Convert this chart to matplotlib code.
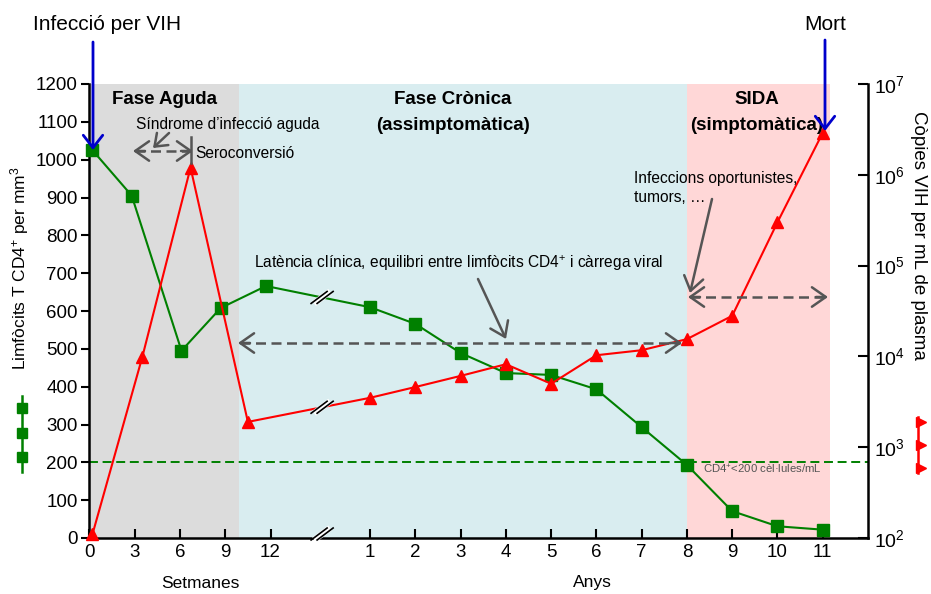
import numpy as np
import matplotlib
matplotlib.use("Agg")
import matplotlib.pyplot as plt
from matplotlib.lines import Line2D
from matplotlib import font_manager

# ---------------- data ----------------
weeks_cd4 = [0.2, 2.8, 6.1, 8.7, 11.7]
cd4_weeks = [1025, 905, 495, 608, 666]
years = [1, 2, 3, 4, 5, 6, 7, 8, 9, 10, 11]
cd4_years = [610, 566, 489, 436, 431, 393, 293, 193, 71, 31, 22]

weeks_vl = [0.2, 3.5, 6.7, 10.5]
vl_weeks = [1.1e2, 9.8e3, 1.2e6, 1.9e3]
vl_years = [3.5e3, 4.6e3, 6.1e3, 8.2e3, 5.0e3, 1.03e4, 1.17e4, 1.55e4, 2.8e4, 3.0e5, 2.9e6]

week_ticks = [0, 3, 6, 9, 12]
year_ticks = [1, 2, 3, 4, 5, 6, 7, 8, 9, 10, 11]
cd4_ticks = list(range(0, 1201, 100))
vl_exponents = [2, 3, 4, 5, 6, 7]
cd4_threshold = 200

# ---------------- style ----------------
W, H = 931, 594
YEAR_OFFSET = 5.2          # position of "year 0" on the shared axis (units = 3 weeks)
def wk(w):
    return np.asarray(w, float) / 3.0
def yr(y):
    return np.asarray(y, float) + YEAR_OFFSET

names = {f.name for f in font_manager.fontManager.ttflist}
NARROW = "Liberation Sans Narrow" if "Liberation Sans Narrow" in names else "Liberation Sans"
plt.rcParams["font.family"] = [NARROW, "DejaVu Sans"]
plt.rcParams["mathtext.fontset"] = "custom"
plt.rcParams["mathtext.rm"] = NARROW
plt.rcParams["mathtext.it"] = NARROW + ":italic"
plt.rcParams["mathtext.bf"] = NARROW + ":bold"

GREEN = "#008000"
RED = "#ff0000"
BLUE = "#0000cc"
GREY = "#555555"

fig = plt.figure(figsize=(W / 100, H / 100), dpi=100)
ax = fig.add_axes([89 / W, 1 - 538 / H, (868 - 89) / W, (538 - 84) / H])
ax.set_xlim(-0.01, 12 + YEAR_OFFSET)
ax.set_ylim(0, 1200)

# phase shading
acute_end = wk(9.9)
chronic_end = yr(8)
aids_end = yr(11.17)
ax.axvspan(-0.01, acute_end, color="#dcdcdc", lw=0, zorder=0)
ax.axvspan(acute_end, chronic_end, color="#d9edf0", lw=0, zorder=0)
ax.axvspan(chronic_end, aids_end, color="#ffd7d7", lw=0, zorder=0)

# threshold line
ax.axhline(cd4_threshold, color=GREEN, lw=1.4, dashes=(4.6, 2.4), zorder=2)

# CD4 series
x_cd4 = np.concatenate([wk(weeks_cd4), yr(years)])
y_cd4 = np.concatenate([cd4_weeks, cd4_years])
ax.plot(x_cd4, y_cd4, color=GREEN, lw=1.5, marker="s", ms=8.5, zorder=4, clip_on=False)

# axes styling (left)
for s in ["top", "right"]:
    ax.spines[s].set_visible(False)
for s in ["left", "bottom"]:
    ax.spines[s].set_linewidth(1.8)
ax.set_yticks(cd4_ticks)
ax.tick_params(axis="y", direction="out", length=6, width=1.5, labelsize=13.5, pad=2)
xt = list(wk(week_ticks)) + list(yr(year_ticks))
xl = [str(v) for v in week_ticks] + [str(v) for v in year_ticks]
ax.set_xticks(xt)
ax.set_xticklabels(xl)
ax.tick_params(axis="x", direction="in", length=6.5, width=1.5, labelsize=13.5, pad=4)

# viral load axis
ax2 = ax.twinx()
ax2.set_yscale("log")
ax2.set_ylim(1e2, 1e7)
x_vl = np.concatenate([wk(weeks_vl), yr(years)])
y_vl = np.concatenate([vl_weeks, vl_years])
ax2.plot(x_vl, y_vl, color=RED, lw=1.5, marker="^", ms=9, zorder=4, clip_on=False)
for s in ["top", "left", "bottom"]:
    ax2.spines[s].set_visible(False)
ax2.spines["right"].set_linewidth(1.8)
ax2.set_yticks([10.0 ** e for e in vl_exponents])
ax2.set_yticklabels([r"10$^{%d}$" % e for e in vl_exponents])
ax2.yaxis.set_minor_locator(matplotlib.ticker.NullLocator())
ax2.tick_params(axis="y", direction="in", length=7, width=1.5, labelsize=14, pad=4)

# ---------------- axis break marks ----------------
fig.canvas.draw()
brk_u = 5.14

def break_mark(dx, dy):
    L = 10.0
    vx, vy = 0.8, 0.6
    xs = [dx - vx * L, dx + vx * L]
    ys = [dy - vy * L, dy + vy * L]
    fig.add_artist(Line2D([x / W for x in xs], [y / H for y in ys], color="white",
                          lw=4.5, solid_capstyle="butt", zorder=10))
    for off in (-3.0, 3.0):
        xs = [dx + off - vx * L, dx + off + vx * L]
        fig.add_artist(Line2D([x / W for x in xs], [y / H for y in ys], color="black",
                              lw=1.2, zorder=11))

gy = np.interp(brk_u, x_cd4, y_cd4)
rv = 10 ** np.interp(brk_u, x_vl, np.log10(y_vl))
for tr, val in [(ax.transData, 0), (ax.transData, gy), (ax2.transData, rv)]:
    d = tr.transform((brk_u, val))
    break_mark(d[0], d[1] + (4 if val == 0 else 0))

# ---------------- annotations (pixel positions from top-left) ----------------
def P(x, y):
    return (x / W, 1 - y / H)

def txt(x, y, s, **kw):
    kw.setdefault("ha", "center")
    kw.setdefault("va", "center")
    fig.text(*P(x, y), s, **kw)

def arrow(x1, y1, x2, y2, color, lw=2.0, hl=0.5, hw=0.35, ls="-"):
    fig.add_artist(matplotlib.patches.FancyArrowPatch(
        P(x1, y1), P(x2, y2), transform=fig.transFigure,
        arrowstyle="->,head_length=%g,head_width=%g" % (hl, hw),
        mutation_scale=20, color=color, lw=lw, linestyle=ls, zorder=12,
        shrinkA=0, shrinkB=0))

def darrow(x1, x2, y):
    fig.add_artist(Line2D([P(x1 + 2, y)[0], P(x2 - 2, y)[0]], [P(0, y)[1]] * 2,
                          color=GREY, lw=1.8, dashes=(4, 2.2), zorder=12))
    arrow(x1 + 12, y, x1, y, GREY, lw=1.8, hl=0.5, hw=0.35)
    arrow(x2 - 12, y, x2, y, GREY, lw=1.8, hl=0.5, hw=0.35)

txt(107, 24, "Infecció per VIH", fontsize=15)
txt(825, 24, "Mort", fontsize=15)
arrow(93, 42, 93, 150, BLUE, lw=2.0, hl=0.45, hw=0.35)
arrow(825, 40, 825, 131, BLUE, lw=2.0, hl=0.45, hw=0.35)

txt(164, 100, "Fase Aguda", fontsize=13.5, fontweight="bold")
txt(453, 100, "Fase Crònica", fontsize=13.5, fontweight="bold")
txt(453, 126, "(assimptomàtica)", fontsize=13.5, fontweight="bold")
txt(757, 100, "SIDA", fontsize=13.5, fontweight="bold")
txt(757, 126, "(simptomàtica)", fontsize=13.5, fontweight="bold")

txt(228, 125, "Síndrome d’infecció aguda", fontsize=11.2)
txt(195, 153, "Seroconversió", fontsize=11.2, ha="left")
darrow(133, 193, 151)
arrow(169, 133, 153, 148, GREY, lw=1.8, hl=0.4, hw=0.3)
fig.add_artist(Line2D([P(191, 0)[0]] * 2, [P(0, 137)[1], P(0, 163)[1]], color=GREY, lw=1.8, zorder=12))

txt(634, 179, "Infeccions oportunistes,", fontsize=11.2, ha="left")
txt(634, 197, "tumors, …", fontsize=11.2, ha="left")
arrow(712, 199, 690, 293, GREY, lw=1.8, hl=0.5, hw=0.35)
darrow(688, 828, 297)

txt(459, 263, "Latència clínica, equilibri entre limfòcits CD4$^{+}$ i càrrega viral", fontsize=11.2)
arrow(478, 279, 506, 339, GREY, lw=1.8, hl=0.5, hw=0.35)
darrow(238, 682, 343)

txt(703, 469, "CD4$^{+}$<200 cèl·lules/mL", fontsize=8.2, ha="left", color=GREY)

# axis titles
txt(20, 268, "Limfòcits T CD4$^{+}$ per mm$^{3}$", fontsize=12.5, rotation=90)
txt(918, 235, "Còpies VIH per mL de plasma", fontsize=13.5, rotation=270)
txt(200, 583, "Setmanes", fontsize=12.5)
txt(592, 583, "Anys", fontsize=12.5)

# rotated legend glyphs
fig.add_artist(Line2D([22 / W] * 2, [P(0, 396)[1], P(0, 472)[1]], color=GREEN, lw=1.8))
fig.add_artist(Line2D([22 / W] * 3, [P(0, y)[1] for y in (408, 433, 457)], color=GREEN,
                      lw=0, marker="s", ms=7.5))
fig.add_artist(Line2D([918 / W] * 2, [P(0, 417)[1], P(0, 473)[1]], color=RED, lw=1.8))
fig.add_artist(Line2D([921 / W] * 3, [P(0, y)[1] for y in (422, 445, 468)], color=RED,
                      lw=0, marker=">", ms=7))

fig.savefig("out.png", dpi=100)
